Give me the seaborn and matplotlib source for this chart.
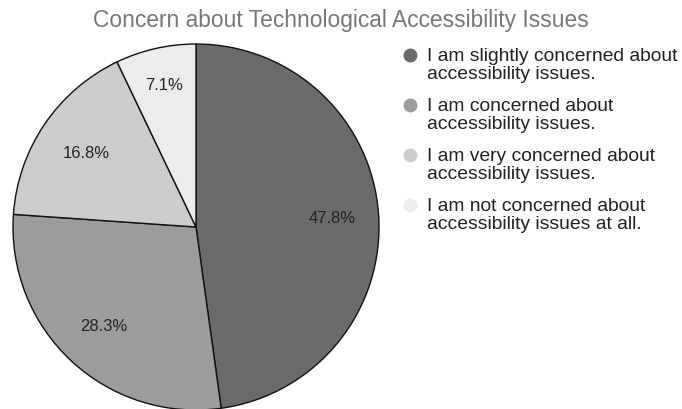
import numpy as np
import seaborn as sns
import matplotlib.pyplot as plt
from matplotlib.lines import Line2D
from matplotlib.legend_handler import HandlerLine2D

# data
labels = ['I am slightly concerned about\naccessibility issues.',
          'I am concerned about\naccessibility issues.',
          'I am very concerned about\naccessibility issues.',
          'I am not concerned about\naccessibility issues at all.']
shares = [47.8, 28.3, 16.8, 7.1]
colors = ['#6b6b6b', '#9c9c9c', '#cccccc', '#ececec']

# how far out (fraction of radius) each percent label sits
label_r = [0.745, 0.737, 0.725, 0.797]


class FirstLineHandler(HandlerLine2D):
    # put the legend dot next to the first line of a two-line label
    def create_artists(self, legend, orig_handle, xdescent, ydescent, width, height, fontsize, trans):
        return super().create_artists(legend, orig_handle, xdescent, ydescent - 14,
                                      width, height, fontsize, trans)


sns.set_theme(style='white')
plt.rcParams['font.family'] = ['Liberation Sans', 'DejaVu Sans']

fig = plt.figure(figsize=(6.82, 4.10), dpi=100)
ax = fig.add_axes([13/682, -1/410, 366/682, 366/410])

wedges, texts, autotexts = ax.pie(shares, colors=colors, startangle=90, counterclock=False,
                                  autopct='%.1f%%', pctdistance=0.74,
                                  wedgeprops=dict(edgecolor='#111111', linewidth=1))
for w, t, r in zip(wedges, autotexts, label_r):
    mid = np.deg2rad((w.theta1 + w.theta2) / 2)
    t.set_position((r * np.cos(mid), r * np.sin(mid)))
    t.set_fontsize(12)
    t.set_color('#222222')
    w.set_clip_on(False)
ax.set_xlim(-1, 1)
ax.set_ylim(-1, 1)
ax.set_aspect('equal')
ax.axis('off')

fig.text(341/682, 1 - 20/410, 'Concern about Technological Accessibility Issues',
         ha='center', va='center', fontsize=16.4, color='#777777')

handles = [Line2D([], [], marker='o', linestyle='', markersize=9,
                  markerfacecolor=c, markeredgecolor=c) for c in colors]
leg = fig.legend(handles, labels, loc='upper left', bbox_to_anchor=(402/682, 1 - 48/410),
                 frameon=False, fontsize=13.9, handlelength=0.8, handletextpad=0.5,
                 labelspacing=0.76, borderpad=0, borderaxespad=0,
                 handler_map={Line2D: FirstLineHandler()})
for t in leg.get_texts():
    t.set_color('#222222')
    t.set_linespacing(1.1)

fig.savefig('out.png', dpi=100)
